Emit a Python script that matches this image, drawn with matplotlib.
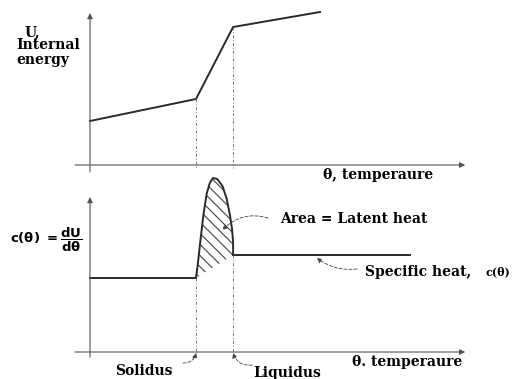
import matplotlib.pyplot as plt

plt.rcParams['font.family'] = 'DejaVu Serif'
plt.rcParams['font.weight'] = 'bold'
plt.rcParams['hatch.linewidth'] = 0.8

# phase change points (temperature units)
solidus = 10.0
liquidus = 13.5

# internal energy curve
theta_U = [0, solidus, liquidus, 21.7]
U_vals = [4.4, 6.6, 13.8, 15.3]

# specific heat
c_solid = 7.4
c_liquid = 9.7
theta_end = 30.2
theta_peak = [10.0, 10.15, 10.4, 10.7, 11.0, 11.3, 11.6, 12.0, 12.5, 12.9, 13.2, 13.4, 13.5, 13.5]
c_peak = [7.4, 8.6, 11.0, 13.7, 15.8, 16.9, 17.4, 17.3, 16.6, 15.3, 13.7, 12.3, 11.0, 9.7]

LINE = '#2a2a2a'
AXC = '#555555'

fig = plt.figure(figsize=(5.2, 3.79), dpi=100)
xlim = (-90 / 10.6, (520 - 90) / 10.6)

ax1 = fig.add_axes([0, 1 - 180 / 379, 1, 180 / 379])
ax1.set_xlim(xlim)
ax1.set_ylim(-1.5, 16.5)
ax2 = fig.add_axes([0, 0, 1, 199 / 379])
ax2.set_xlim(xlim)
ax2.set_ylim(-2.7, 17.2)
for ax in (ax1, ax2):
    ax.axis('off')

arrow_ax = dict(arrowstyle='-|>', lw=0.8, color=AXC, mutation_scale=8, shrinkA=0, shrinkB=0)

# ---- top: internal energy
ax1.annotate('', xy=(35.4, 0), xytext=(-1.4, 0), arrowprops=arrow_ax)
ax1.annotate('', xy=(0, 15.2), xytext=(0, -0.7), arrowprops=arrow_ax)
ax1.plot(theta_U, U_vals, color=LINE, lw=1.4, clip_on=False)
for t, u in zip(theta_U[1:3], U_vals[1:3]):
    ax1.plot([t, t], [u, -0.3], ls=(0, (3, 2, 1, 2)), lw=0.7, color='#777777')

ax1.text(-6.13, 13.3, 'U,', fontsize=10, va='center')
ax1.text(-6.98, 12.0, 'Internal', fontsize=10, va='center')
ax1.text(-6.98, 10.5, 'energy', fontsize=10, va='center')
ax1.text(22.0, -1.0, 'θ, temperaure', fontsize=10, va='center', clip_on=False)

# ---- bottom: specific heat
ax2.annotate('', xy=(35.4, 0), xytext=(-1.4, 0), arrowprops=arrow_ax)
ax2.annotate('', xy=(0, 15.5), xytext=(0, -0.5), arrowprops=arrow_ax)
ax2.plot([0, solidus], [c_solid, c_solid], color=LINE, lw=1.4)
ax2.plot([liquidus, theta_end], [c_liquid, c_liquid], color=LINE, lw=1.4)
ax2.plot(theta_peak, c_peak, color=LINE, lw=1.4, clip_on=False)
ax2.fill(theta_peak, c_peak, facecolor='none', edgecolor='#444444', hatch='\\\\\\', lw=0, clip_on=False)
for t, c in [(solidus, c_solid), (liquidus, c_liquid)]:
    ax2.plot([t, t], [c, -0.5], ls=(0, (3, 2, 1, 2)), lw=0.7, color='#777777')

ax2.text(-7.55, 11.2, r'$\mathbf{c(\theta)\ =}\dfrac{\mathbf{dU}}{\mathbf{d\theta}}$', fontsize=9.5, va='center')
ax2.text(24.7, -1.0, 'θ. temperaure', fontsize=10, va='center', clip_on=False)

note = dict(arrowstyle='-|>', lw=0.6, color='#444444', ls=(0, (4, 2)), mutation_scale=7, shrinkA=0, shrinkB=0)
ax2.text(17.9, 13.3, 'Area = Latent heat', fontsize=10, va='center')
ax2.annotate('', xy=(12.5, 12.2), xytext=(16.8, 13.4),
             arrowprops=dict(note, connectionstyle='arc3,rad=0.3'))
ax2.text(25.9, 8.0, 'Specific heat, ', fontsize=10, va='center')
ax2.text(37.3, 8.0, 'c(θ)', fontsize=8, va='center')
ax2.annotate('', xy=(21.4, 9.4), xytext=(25.2, 8.3),
             arrowprops=dict(note, connectionstyle='arc3,rad=-0.2'))
ax2.text(2.36, -1.9, 'Solidus', fontsize=10, va='center', clip_on=False)
ax2.annotate('', xy=(10.0, -0.1), xytext=(8.77, -1.1),
             arrowprops=dict(note, connectionstyle='arc3,rad=0.4'))
ax2.text(15.4, -2.1, 'Liquidus', fontsize=10, va='center', clip_on=False)
ax2.annotate('', xy=(13.5, -0.1), xytext=(15.3, -1.3),
             arrowprops=dict(note, connectionstyle='arc3,rad=-0.4'))

fig.savefig('out.png', dpi=100)
